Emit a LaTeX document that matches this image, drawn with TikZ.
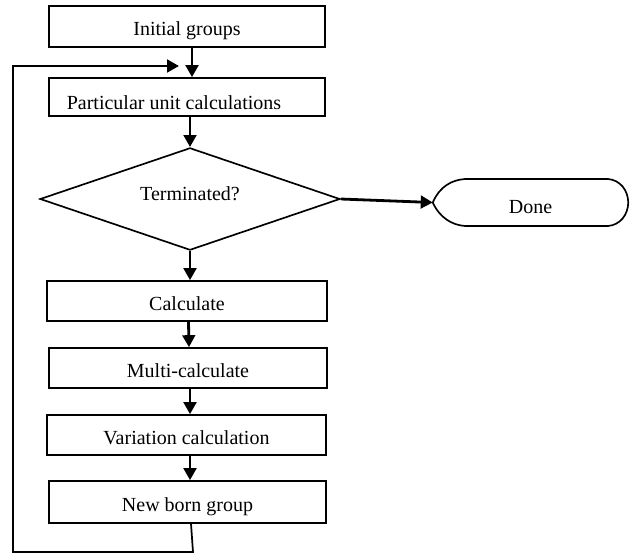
\documentclass[tikz,border=0pt]{standalone}
\usepackage{fontspec}
\setmainfont{Liberation Serif}
\usetikzlibrary{arrows.meta,shapes.geometric,calc}
\begin{document}
\begin{tikzpicture}[x=0.75pt,y=-0.75pt,
  box/.style={draw,line width=1.25pt,inner sep=0pt,font=\fontsize{15}{17}\selectfont,text height=14pt,text depth=0pt},
  flow/.style={line width=2.1pt,-{Triangle[length=9pt,width=9.5pt]}},
  loopline/.style={line width=1.3pt}]
\useasboundingbox (0,0) rectangle (631,554);
\node[box,minimum width=207pt,minimum height=30.75pt] (init) at (187,26.5) {Initial groups};
\node[box,minimum width=207pt,minimum height=28.5pt,text height=0pt,label={[font=\fontsize{15}{17}\selectfont,anchor=base,xshift=-9.75pt,yshift=-4.5pt]center:Particular unit calculations}] (part) at (187,97) {};
\node[draw,diamond,line width=1.25pt,inner sep=0pt,minimum width=225pt,minimum height=75pt,font=\fontsize{15}{17}\selectfont,text height=2pt,text depth=0pt] (term) at (190,199) {Terminated?};
\node[box,minimum width=210pt,minimum height=30pt] (calc) at (187,301) {Calculate};
\node[box,minimum width=208.5pt,minimum height=30pt] (multi) at (188,368) {Multi-calculate};
\node[box,minimum width=209.25pt,minimum height=30pt] (var) at (186.5,435) {Variation calculation};
\node[box,minimum width=207.75pt,minimum height=31.5pt] (newb) at (187.5,502) {New born group};
\node[inner sep=0pt,minimum width=146.25pt,minimum height=35.25pt,font=\fontsize{15}{17}\selectfont,text height=17pt,text depth=0pt] (done) at (530.5,202.5) {Done};
\draw[line width=1.25pt] (done.west) .. controls (440,186) and (452,180) .. (465,179) -- (608,179)
  .. controls (620,180) and (628,190) .. (done.east)
  .. controls (628,215) and (620,225) .. (608,226) -- (465,226)
  .. controls (452,225) and (440,218) .. (done.west);
% connectors
\draw[flow] ($(init.south)+(5,0)$) -- ($(part.north)+(5,0)$);
\draw[flow] ($(part.south)+(3,0)$) -- (term.north);
\draw[flow] (term.south) -- ($(calc.north)+(3,0)$);
\draw[flow] ($(calc.south)+(1.5,0)$) -- ($(multi.north)+(1,0)$);
\draw[flow] ($(multi.south)+(2,0)$) -- ($(var.north)+(3.5,0)$);
\draw[flow] ($(var.south)+(3.5,0)$) -- ($(newb.north)+(2.5,0)$);
\draw[flow] (term.east) -- (done.west);
% feedback loop
\coordinate (lb) at (193,552);
\coordinate (ll) at (13,552);
\coordinate (lt) at (13,66);
\coordinate (tip) at (179,66);
\draw[loopline,line join=miter] ($(newb.south)+(3.5,0)$) -- (lb) -- (ll) -- (lt);
\draw[flow] ([xshift=-0.65pt]lt) -- (tip);
\end{tikzpicture}
\end{document}
